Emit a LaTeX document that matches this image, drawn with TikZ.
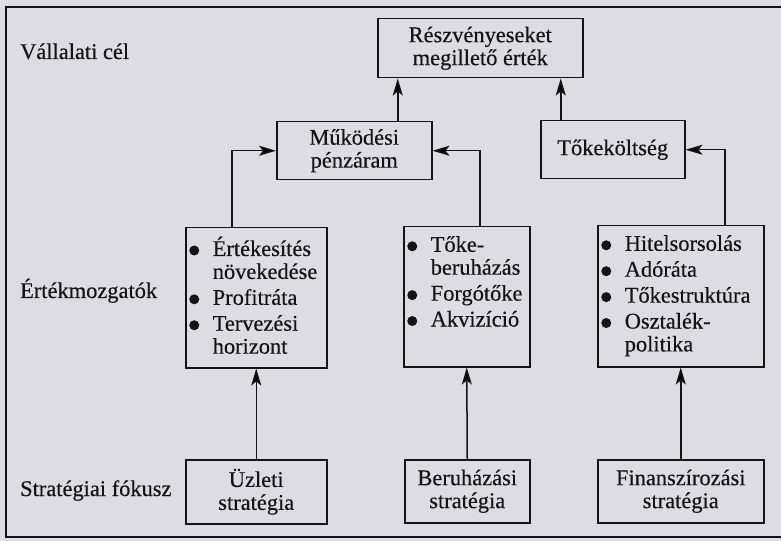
\documentclass[tikz,border=0pt]{standalone}
\usepackage{fontspec}
\setmainfont[FakeBold=0.35]{Liberation Serif}
\usetikzlibrary{arrows.meta}
\definecolor{paper}{HTML}{DCDCE2}
\definecolor{ink}{HTML}{141416}
% filled list bullet, centred a little above the baseline
\newcommand\bul{\tikz[baseline={(0pt,-5.5bp)}]\fill[ink] (0pt,0pt) circle[radius=5bp];}
\newcommand\dotcell{\makebox[27bp][l]{\hspace{3.5bp}\bul}}
\newcommand\listfont{\fontsize{22.5}{23}\selectfont}
\begin{document}
\begin{tikzpicture}[x=1bp,y=-1bp,
  box/.style={draw=ink, line width=1.5bp, inner sep=0pt, anchor=north west,
    text=ink, font=\listfont},
  plain/.style={box, align=center},
  lbl/.style={anchor=base west, inner sep=0pt, text=ink, font=\listfont},
  arr/.style={draw=ink, line width=1.5bp,
    -{Stealth[length=17bp,width=10bp,inset=4bp]}},
  frameline/.style={draw=ink, line width=1.6bp}]
\fill[paper] (0,0) rectangle (781,541);
\useasboundingbox (0,0) rectangle (781,541);
% open frame
\draw[frameline] (781,7) -- (6,7) -- (6,537) -- (781,537);
% row labels
\node[lbl] (goal) at (20,59) {Vállalati cél};
\node[lbl] (drivers) at (20,298) {Értékmozgatók};
\node[lbl] (focus) at (20,496) {Stratégiai fókusz};
% top level
\node[plain, minimum width=205bp, minimum height=59bp] (res) at (377,18)
  {Részvényeseket\\megillető érték};
\node[plain, minimum width=155bp, minimum height=58bp] (mpa) at (276,121)
  {Működési\\pénzáram};
\node[plain, minimum width=144bp, minimum height=58bp] (toke) at (540,120)
  {Tőkeköltség};
% value drivers
\node[box, minimum width=141bp, minimum height=140bp] (ert) at (185,227)
  {\parbox[c][122bp][t]{141bp}{\begin{tabular}{@{}l@{}l@{}}
    \dotcell & Értékesítés\\
     & növekedése\\[3bp]
    \dotcell & Profitráta\\[3bp]
    \dotcell & Tervezési\\
     & horizont
  \end{tabular}}};
\node[box, minimum width=126bp, minimum height=140bp] (beru) at (403,226)
  {\parbox[c][122bp][t]{126bp}{\begin{tabular}{@{}l@{}l@{}}
    \dotcell & Tőke-\\
     & beruházás\\[3bp]
    \dotcell & Forgótőke\\[3bp]
    \dotcell & Akvizíció
  \end{tabular}}};
\node[box, minimum width=166bp, minimum height=141bp] (hitel) at (597,225)
  {\parbox[c][123bp][t]{166bp}{\begin{tabular}{@{}l@{}l@{}}
    \dotcell & Hitelsorsolás\\[3bp]
    \dotcell & Adóráta\\[3bp]
    \dotcell & Tőkestruktúra\\[3bp]
    \dotcell & Osztalék-\\
     & politika
  \end{tabular}}};
% strategies
\node[plain, minimum width=141bp, minimum height=64bp] (uzl) at (185,459)
  {Üzleti\\stratégia};
\node[plain, minimum width=125bp, minimum height=63bp] (bst) at (404,459)
  {Beruházási\\stratégia};
\node[plain, minimum width=166bp, minimum height=63bp] (fst) at (597,459)
  {Finanszírozási\\stratégia};
% connectors
\draw[arr] (uzl.north) -- (ert.south);
\draw[arr] (bst.north) -- (beru.south);
\draw[arr] (fst.north) -- (hitel.south);
\draw[arr] ([xshift=-24.5bp]ert.north) |- (mpa.west);
\draw[arr] ([xshift=13bp]beru.north) |- (mpa.east);
\draw[arr] ([xshift=44bp]hitel.north) |- (toke.east);
\draw[arr] ([xshift=43.5bp]mpa.north) -- ([xshift=43.5bp]mpa.north |- res.south);
\draw[arr] ([xshift=-52bp]toke.north) -- ([xshift=-52bp]toke.north |- res.south);
\end{tikzpicture}
\end{document}
